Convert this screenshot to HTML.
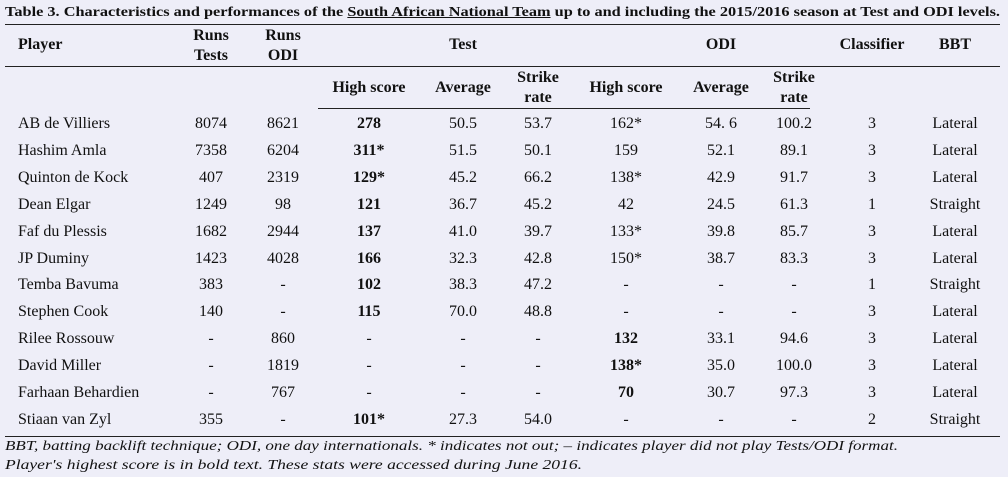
<!DOCTYPE html>
<html><head><meta charset="utf-8">
<style>
html,body{margin:0;padding:0}
body{width:1008px;height:477px;background:#eeeef8;position:relative;overflow:hidden;font-family:"Liberation Serif",serif;color:#111;font-size:16px}
.t{position:absolute;white-space:nowrap;line-height:20px}
.c{transform:translateX(-50%);text-align:center}
.b{font-weight:bold}
.line{position:absolute;height:1px;background:#222}
#title,#f1,#f2{font-size:14px;line-height:16px}
</style></head>
<body>
<div id="title" class="t b" style="left:5px;top:5px">Table 3. Characteristics and performances of the <u>South African National Team</u> up to and including the 2015/2016 season at Test and ODI levels.</div>
<div class="line" style="left:5px;width:995px;top:24px"></div>
<div class="line" style="left:5px;width:995px;top:66px"></div>
<div class="line" style="left:318px;width:492px;top:108px"></div>
<div class="line" style="left:5px;width:995px;top:436px"></div>
<div id="f1" class="t" style="left:5px;top:439px;font-style:italic">BBT, batting backlift technique; ODI, one day internationals. * indicates not out; – indicates player did not play Tests/ODI format.</div>
<div id="f2" class="t" style="left:5px;top:458px;font-style:italic">Player's highest score is in bold text. These stats were accessed during June 2016.</div>
<script>
const players=["AB de Villiers","Hashim Amla","Quinton de Kock","Dean Elgar","Faf du Plessis","JP Duminy","Temba Bavuma","Stephen Cook","Rilee Rossouw","David Miller","Farhaan Behardien","Stiaan van Zyl"];
const runsTests=["8074","7358","407","1249","1682","1423","383","140","-","-","-","355"];
const runsOdi=["8621","6204","2319","98","2944","4028","-","-","860","1819","767","-"];
const testHS=["278","311*","129*","121","137","166","102","115","-","-","-","101*"];
const testAvg=["50.5","51.5","45.2","36.7","41.0","32.3","38.3","70.0","-","-","-","27.3"];
const testSR=["53.7","50.1","66.2","45.2","39.7","42.8","47.2","48.8","-","-","-","54.0"];
const odiHS=["162*","159","138*","42","133*","150*","-","-","132","138*","70","-"];
const odiAvg=["54. 6","52.1","42.9","24.5","39.8","38.7","-","-","33.1","35.0","30.7","-"];
const odiSR=["100.2","89.1","91.7","61.3","85.7","83.3","-","-","94.6","100.0","97.3","-"];
const classifier=["3","3","3","1","3","3","1","3","3","3","3","2"];
const bbt=["Lateral","Lateral","Lateral","Straight","Lateral","Lateral","Straight","Lateral","Lateral","Lateral","Lateral","Straight"];
const boldTest=[1,1,1,1,1,1,1,1,0,0,0,1];
const boldOdi=[0,0,0,0,0,0,0,0,1,1,1,0];

function add(txt,x,y,center,bold,name){
  const d=document.createElement('div');
  d.className='t'+(center?' c':'')+(bold?' b':'');
  d.style.left=x+'px';d.style.top=(y-10)+'px';
  d.innerHTML=txt;
  
  
  document.body.appendChild(d);
}
add("Player",18,45,false,true,"header-player");
add("Runs<br>Tests",211,36,true,true,"header-runs-tests");
add("Runs<br>ODI",283,36,true,true,"header-runs-odi");
add("Test",463,45,true,true,"header-test");
add("ODI",721,45,true,true,"header-odi");
add("Classifier",872,45,true,true,"header-classifier");
add("BBT",955,45,true,true,"header-bbt");
add("High score",369,88,true,true,"header-test-high-score");
add("Average",463,88,true,true,"header-test-average");
add("Strike<br>rate",538,78,true,true,"header-test-strike-rate");
add("High score",626,88,true,true,"header-odi-high-score");
add("Average",721,88,true,true,"header-odi-average");
add("Strike<br>rate",794,78,true,true,"header-odi-strike-rate");
for(let i=0;i<players.length;i++){
  const y=124+i*26.9;
  add(players[i],18,y,false,false,"player-name");
  add(runsTests[i],211,y,true,false,"runs-tests");
  add(runsOdi[i],283,y,true,false,"runs-odi");
  add(testHS[i],369,y,true,boldTest[i]&&testHS[i]!=="-","test-high-score");
  add(testAvg[i],463,y,true,false,"test-average");
  add(testSR[i],538,y,true,false,"test-strike-rate");
  add(odiHS[i],626,y,true,boldOdi[i]&&odiHS[i]!=="-","odi-high-score");
  add(odiAvg[i],721,y,true,false,"odi-average");
  add(odiSR[i],794,y,true,false,"odi-strike-rate");
  add(classifier[i],872,y,true,false,"classifier");
  add(bbt[i],955,y,true,false,"bbt");
}
function fit(id,w){const e=document.getElementById(id);const r=e.getBoundingClientRect().width;e.style.transformOrigin='0 0';e.style.transform='scaleX('+(w/r)+')';}
fit('title',995);fit('f1',893);fit('f2',577);
</script>
</body></html>
